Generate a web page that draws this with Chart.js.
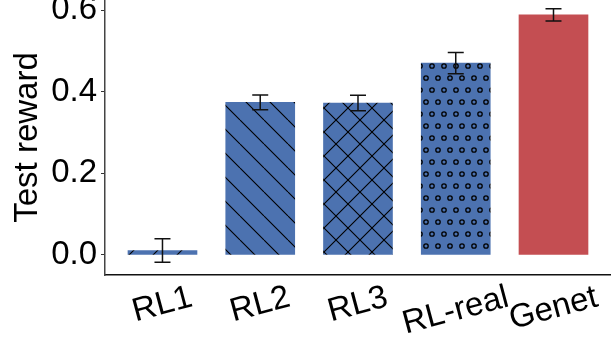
<!DOCTYPE html>
<html>
<head>
<meta charset="utf-8">
<script src="https://cdn.jsdelivr.net/npm/chart.js@4"></script>
<style>
  html, body { margin: 0; padding: 0; background: #fff; }
  #wrap { width: 613px; height: 345px; }
</style>
</head>
<body>
<div id="wrap"><canvas id="canvas-1" width="613" height="345"></canvas></div>
<script>
var categories = ['RL1', 'RL2', 'RL3', 'RL-real', 'Genet'];
var rewards = [0.011, 0.374, 0.372, 0.470, 0.588];
var errors = [0.029, 0.018, 0.019, 0.026, 0.015];
var hatches = ['/', '\\', 'x', 'o', ''];

var blue = '#4C72B0';
var red = '#C44E52';
var fontFamily = "'Liberation Sans', Arial, sans-serif";
var fontSize = 33;

// hatch tiles used as bar fills
var makePattern = function(kind, color){
  if (!kind) return color;
  var tile = document.createElement('canvas');
  var w = 24, h = 24;
  if (kind === 'o') { w = 12; h = 24; }
  tile.width = w; tile.height = h;
  var c = tile.getContext('2d');
  c.fillStyle = color;
  c.fillRect(0, 0, w, h);
  c.strokeStyle = '#000';
  c.lineWidth = 1.1;
  if (kind === '\\' || kind === 'x') {
    c.beginPath();
    [-24, 0, 24].forEach(function(k){ c.moveTo(k, 0); c.lineTo(k + 24, 24); });
    c.stroke();
  }
  if (kind === '/' || kind === 'x') {
    c.beginPath();
    [-24, 0, 24].forEach(function(k){ c.moveTo(k, 24); c.lineTo(k + 24, 0); });
    c.stroke();
  }
  if (kind === 'o') {
    c.lineWidth = 1.3;
    [[6, 6], [0, 18], [12, 18]].forEach(function(p){
      c.beginPath();
      c.arc(p[0], p[1], 2.2, 0, Math.PI * 2);
      c.stroke();
    });
  }
  return document.getElementById('canvas-1').getContext('2d').createPattern(tile, 'repeat');
};

var fills = hatches.map(function(k, i){
  return makePattern(k, i === 4 ? red : blue);
});

var points = rewards.map(function(v, i){ return { x: i, y: v }; });

// error bars drawn on top of the bars
var errorBars = {
  id: 'errorBars',
  afterDatasetsDraw: function(chart){
    var ctx = chart.ctx;
    var meta = chart.getDatasetMeta(0);
    var ys = chart.scales.y;
    ctx.save();
    ctx.strokeStyle = '#111';
    ctx.lineWidth = 1.5;
    meta.data.forEach(function(bar, i){
      var top = ys.getPixelForValue(rewards[i] + errors[i]);
      var bottom = ys.getPixelForValue(rewards[i] - errors[i]);
      ctx.beginPath();
      ctx.moveTo(bar.x, top); ctx.lineTo(bar.x, bottom);
      ctx.moveTo(bar.x - 8, top); ctx.lineTo(bar.x + 8, top);
      ctx.moveTo(bar.x - 8, bottom); ctx.lineTo(bar.x + 8, bottom);
      ctx.stroke();
    });
    ctx.restore();
  }
};

// rotated category labels, centred under each bar
var xLabels = {
  id: 'xLabels',
  afterDraw: function(chart){
    var ctx = chart.ctx;
    var xs = chart.scales.x;
    var angle = 15 * Math.PI / 180;
    ctx.save();
    ctx.font = fontSize + 'px ' + fontFamily;
    ctx.fillStyle = '#000';
    ctx.textAlign = 'center';
    ctx.textBaseline = 'middle';
    categories.forEach(function(name, i){
      var w = ctx.measureText(name).width;
      var x = xs.getPixelForValue(i);
      var y = 297 + w * Math.sin(angle) / 2;
      ctx.save();
      ctx.translate(x, y);
      ctx.rotate(-angle);
      ctx.fillText(name, 0, 0);
      ctx.restore();
    });
    ctx.restore();
  }
};

var chart = new Chart(document.getElementById('canvas-1'), {
  type: 'bar',
  data: {
    datasets: [{
      data: points,
      backgroundColor: fills,
      borderWidth: 0,
      barThickness: 69
    }]
  },
  plugins: [errorBars, xLabels],
  options: {
    responsive: false,
    animation: false,
    events: [],
    layout: { padding: { left: 4, right: 3, top: 0, bottom: 0 } },
    plugins: { legend: { display: false }, tooltip: { enabled: false } },
    scales: {
      x: {
        type: 'linear',
        offset: false,
        min: -0.588,
        max: 4.578,
        ticks: { display: false },
        grid: { display: false },
        border: { display: true, color: '#111', width: 1.5 },
        afterFit: function(scale){
          scale.height = 70;
          scale.paddingLeft = 0; scale.paddingRight = 0;
        }
      },
      y: {
        min: -0.049,
        max: 0.6245,
        ticks: {
          stepSize: 0.2,
          includeBounds: false,
          padding: 4,
          color: '#000',
          font: { size: fontSize, family: fontFamily },
          callback: function(v){ return v.toFixed(1); }
        },
        grid: { drawOnChartArea: false, drawTicks: true, tickLength: 4, color: '#333', lineWidth: 1 },
        border: { display: true, color: '#444', width: 1.5 },
        title: {
          display: true,
          text: 'Test reward',
          color: '#000',
          font: { size: fontSize, family: fontFamily },
          padding: { top: 4, bottom: 0 }
        },
        afterFit: function(scale){
          scale.width = 101;
          scale.paddingTop = 0; scale.paddingBottom = 0;
        }
      }
    }
  }
});
</script>
</body>
</html>
